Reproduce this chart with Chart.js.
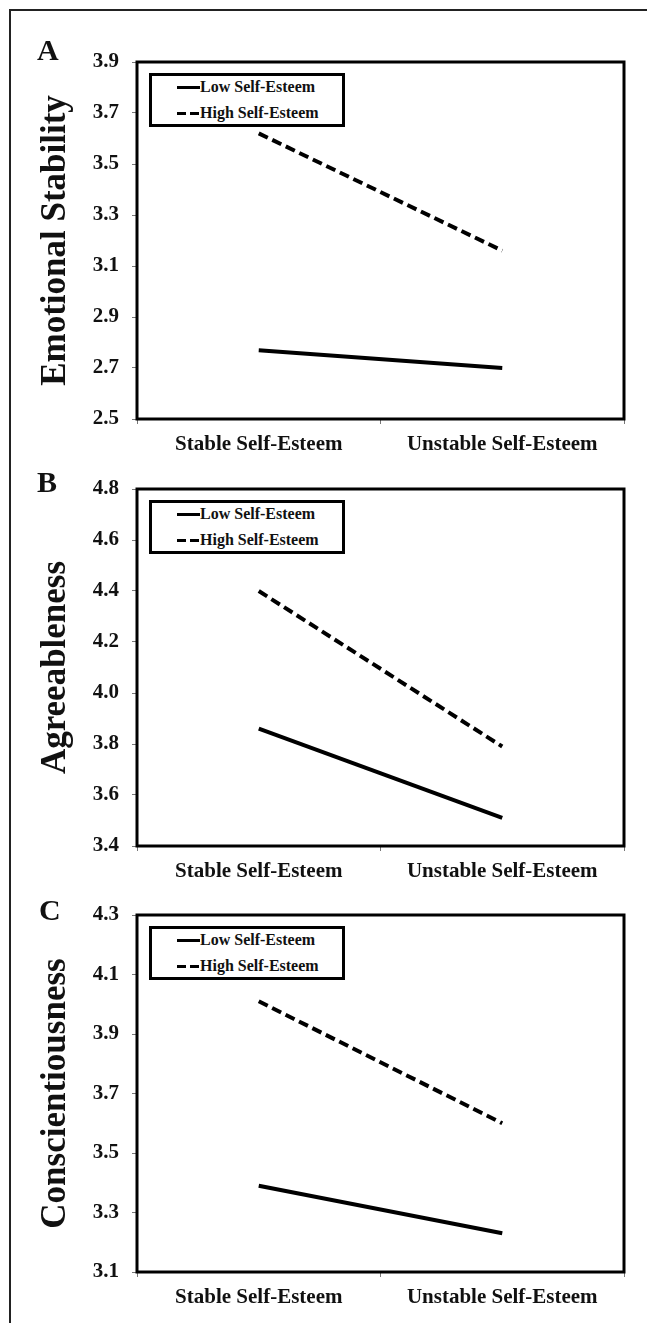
<!DOCTYPE html>
<html>
<head>
<meta charset="utf-8">
<script src="https://cdn.jsdelivr.net/npm/chart.js@4.4.1/dist/chart.umd.min.js"></script>
<style>
html,body{margin:0;padding:0;background:#fff;}
body{width:647px;height:1323px;position:relative;overflow:hidden;font-family:"Liberation Serif","Times New Roman",serif;}
.frame{position:absolute;left:9px;top:9px;width:800px;height:1500px;border-left:2px solid #222;border-top:2px solid #222;}
canvas.panel{position:absolute;left:0;}
.letter{position:absolute;font-weight:bold;font-size:30px;line-height:30px;color:#111;}
.legend{position:absolute;left:149px;width:196px;height:54px;border:3px solid #000;box-sizing:border-box;background:#fff;}
.row{position:absolute;left:0;height:18px;font-weight:bold;font-size:16px;line-height:18px;color:#111;white-space:nowrap;}
.sample{position:absolute;left:25px;top:8px;width:23px;height:3px;}
.row .txt{position:absolute;left:48px;top:0;}
</style>
</head>
<body>
<div class="frame"></div>
<script>
// ---- data ----
const categories = ['Stable Self-Esteem', 'Unstable Self-Esteem'];
const seriesNames = ['Low Self-Esteem', 'High Self-Esteem'];
const panelLetters = ['A', 'B', 'C'];
const yTitles = ['Emotional Stability', 'Agreeableness', 'Conscientiousness'];

const emotionalLow = [2.77, 2.70];
const emotionalHigh = [3.62, 3.16];
const agreeLow = [3.86, 3.51];
const agreeHigh = [4.40, 3.79];
const conscLow = [3.39, 3.23];
const conscHigh = [4.01, 3.60];

const emotionalTicks = [2.5, 2.7, 2.9, 3.1, 3.3, 3.5, 3.7, 3.9];
const agreeTicks = [3.4, 3.6, 3.8, 4.0, 4.2, 4.4, 4.6, 4.8];
const conscTicks = [3.1, 3.3, 3.5, 3.7, 3.9, 4.1, 4.3];

// ---- layout ----
const FONT = '"Liberation Serif", "Times New Roman", serif';
const panelTops = [62, 489, 915];   // plot-area top pixel per panel
const CANVAS_H = 426;
const TOP_PAD = 30;
const X_AXIS_H = 39;
const PLOT_LEFT = 137;
const RIGHT_PAD = 23;

const framePlugin = {
  id: 'plotFrame',
  afterDatasetsDraw(chart) {
    const {ctx, chartArea: a} = chart;
    ctx.save();
    ctx.strokeStyle = '#000';
    ctx.lineWidth = 3;
    ctx.strokeRect(a.left, a.top, a.right - a.left, a.bottom - a.top);
    ctx.restore();
  }
};

const dashPattern = [10, 5];

function makePanel(i, low, high, yTicks) {
  const plotTop = panelTops[i];
  const cv = document.createElement('canvas');
  cv.className = 'panel';
  cv.width = 647; cv.height = CANVAS_H;
  cv.style.top = (plotTop - TOP_PAD) + 'px';
  cv.style.width = '647px'; cv.style.height = CANVAS_H + 'px';
  document.body.appendChild(cv);

  new Chart(cv, {
    type: 'line',
    data: {
      labels: categories,
      datasets: [
        {label: seriesNames[0], data: low, borderColor: '#000', borderWidth: 4, pointRadius: 0, fill: false, tension: 0, borderCapStyle: 'butt'},
        {label: seriesNames[1], data: high, borderColor: '#000', borderWidth: 4, borderDash: dashPattern, pointRadius: 0, fill: false, tension: 0, borderCapStyle: 'butt'}
      ]
    },
    options: {
      responsive: false,
      animation: false,
      devicePixelRatio: 1,
      layout: {padding: {top: TOP_PAD, right: RIGHT_PAD, left: 0, bottom: 0}},
      plugins: {legend: {display: false}, tooltip: {enabled: false}},
      scales: {
        x: {
          type: 'category',
          offset: true,
          grid: {offset: true, drawOnChartArea: false, drawTicks: true, tickLength: 5, color: '#777', lineWidth: 1},
          border: {display: false},
          ticks: {color: '#111', font: {family: FONT, size: 21, weight: 'bold'}, padding: 8, maxRotation: 0, autoSkip: false},
          afterFit: s => { s.height = X_AXIS_H; }
        },
        y: {
          min: yTicks[0],
          max: yTicks[yTicks.length - 1],
          afterBuildTicks: s => { s.ticks = yTicks.map(v => ({value: v})); },
          grid: {drawOnChartArea: false, drawTicks: true, tickLength: 5, color: '#777', lineWidth: 1},
          border: {display: false},
          ticks: {color: '#111', font: {family: FONT, size: 21, weight: 'bold'}, padding: 13, callback: v => Number(v).toFixed(1)},
          title: {display: true, text: yTitles[i], color: '#111', font: {family: FONT, size: 35, weight: 'bold'}, padding: {top: 35, bottom: 0}},
          afterFit: s => { s.width = PLOT_LEFT; }
        }
      }
    },
    plugins: [framePlugin]
  });

  // panel letter
  const L = document.createElement('div');
  L.className = 'letter';
  L.textContent = panelLetters[i];
  L.style.left = (i === 2 ? 39 : 37) + 'px';
  L.style.top = ([35, 467, 895][i]) + 'px';
  document.body.appendChild(L);

  // legend box inside plot
  const box = document.createElement('div');
  box.className = 'legend';
  box.style.top = (plotTop + 11) + 'px';
  seriesNames.forEach((name, k) => {
    const row = document.createElement('div');
    row.className = 'row';
    row.style.top = (k === 0 ? 2 : 28) + 'px';
    const sm = document.createElement('span');
    sm.className = 'sample';
    sm.style.background = k === 0 ? '#000' : 'repeating-linear-gradient(90deg,#000 0 9px,transparent 9px 13px)';
    const tx = document.createElement('span');
    tx.className = 'txt';
    tx.textContent = name;
    row.appendChild(sm); row.appendChild(tx);
    box.appendChild(row);
  });
  document.body.appendChild(box);
}

makePanel(0, emotionalLow, emotionalHigh, emotionalTicks);
makePanel(1, agreeLow, agreeHigh, agreeTicks);
makePanel(2, conscLow, conscHigh, conscTicks);
</script>
</body>
</html>
